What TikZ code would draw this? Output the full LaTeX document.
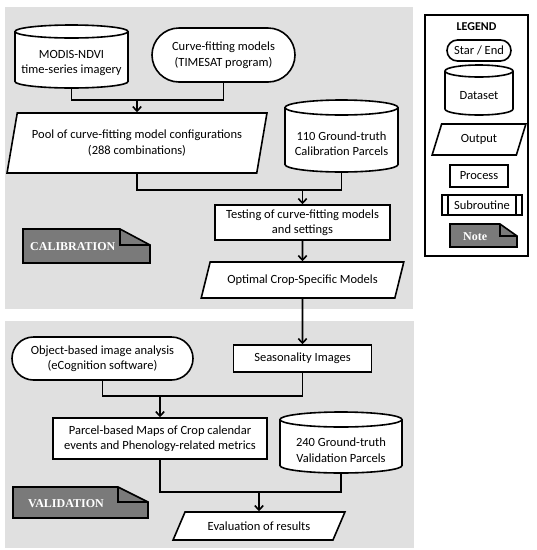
\documentclass[tikz,border=0pt]{standalone}
\usepackage{fontspec}
\setmainfont{Carlito}
\newfontfamily\notefont{Liberation Serif}
\usetikzlibrary{shapes.geometric,shapes.misc,arrows.meta}
\definecolor{panel}{RGB}{224,224,224}
\definecolor{notegray}{RGB}{122,122,122}
\tikzset{
  shapeline/.style={line width=1.6pt},
  box/.style={shapeline, draw, fill=white, align=center, inner sep=2pt,
    font=\fontsize{12.5}{15.5}\selectfont},
  txtonly/.style={align=center, inner sep=0pt, font=\fontsize{12.5}{15.5}\selectfont},
  procbox/.style={box, rectangle},
  termbox/.style={box, rounded rectangle},
  outbox/.style={box, trapezium, trapezium stretches=true, trapezium left angle=#1, trapezium right angle={180-#1}},
  notetext/.style={text=white, inner sep=0pt, font=\notefont\bfseries\fontsize{12}{14}\selectfont},
  subr/.style={path picture={
      \draw[shapeline] ([xshift=6pt]path picture bounding box.north west) -- ([xshift=6pt]path picture bounding box.south west);
      \draw[shapeline] ([xshift=-6pt]path picture bounding box.north east) -- ([xshift=-6pt]path picture bounding box.south east);}},
  conn/.style={line width=1.6pt},
  arr/.style={conn, -{Straight Barb[length=4.5pt,width=8.5pt]}}
}
% cylinder: name, cx, cy, width, height, ry, text
\newcommand\cyl[7]{%
  \draw[shapeline, fill=white]
    ({#2-#4/2},{-#3+#5/2-#6}) -- ({#2-#4/2},{-#3-#5/2+#6})
    arc[start angle=180,end angle=360,x radius={#4/2*1pt},y radius={#6*1pt}]
    -- ({#2+#4/2},{-#3+#5/2-#6})
    arc[start angle=0,end angle=180,x radius={#4/2*1pt},y radius={#6*1pt}] -- cycle;
  \draw[shapeline] ({#2-#4/2},{-#3+#5/2-#6})
    arc[start angle=180,end angle=360,x radius={#4/2*1pt},y radius={#6*1pt}];
  \node[txtonly, minimum width=#4, minimum height={#5-2*#6}] (#1) at ({#2},{-#3-#6}) {#7};
}
% note: name, x1, y1, xfold, x2, yfold, y2, textx, text
\newcommand\notebox[9]{%
  \draw[shapeline, fill=notegray] (#2,-#3) -- (#4,-#3) -- (#5,-#6) -- (#5,-#7) -- (#2,-#7) -- cycle;
  \draw[shapeline] (#4,-#3) -- (#4,-#6) -- (#5,-#6);
  \node[notetext, anchor=west] (#1) at ({#8},{-(#3+#7)/2-1}) {#9};
}
\begin{document}
\begin{tikzpicture}[x=1pt,y=1pt]
\useasboundingbox (0,0) rectangle (537,-550);
\fill[panel] (5,-7) rectangle (413,-309);
\fill[panel] (5,-321) rectangle (414,-548);
\draw[shapeline, fill=white] (425,-15) rectangle (528,-256);

% ---- calibration
\cyl{modis}{71.5}{56.5}{113}{63}{6.5}{MODIS-NDVI\\time-series imagery}
\node[termbox, minimum width=147, minimum height=54] (curve) at (223.5,-55) {Curve-fitting models\\(TIMESAT program)};
\node[outbox=73, minimum width=260, minimum height=60] (pool) at (137,-143) {Pool of curve-fitting model configurations\\(288 combinations)};
\cyl{cal}{341.5}{136}{113}{72}{7.5}{110 Ground-truth\\Calibration Parcels}
\node[procbox, minimum width=175, minimum height=35] (test) at (302.5,-222.5) {Testing of curve-fitting models\\and settings};
\node[outbox=63, minimum width=203, minimum height=36] (opt) at (302.5,-280) {Optimal Crop-Specific Models};
\notebox{calnote}{23}{229}{120}{150}{245}{263}{30}{CALIBRATION}

\coordinate (j1) at (137,-100);
\draw[conn] (modis.south) |- (j1) -| (curve.south);
\draw[arr] (j1) -- (pool.north);
\coordinate (j2) at (302.5,-190);
\draw[conn] (pool.south) |- (j2) -| (cal.south);
\draw[arr] (j2) -- (test.north);
\draw[arr] (test.south) -- (opt.north);

% ---- validation
\node[termbox, minimum width=185, minimum height=43] (obj) at (102.5,-358.5) {Object-based image analysis\\(eCognition software)};
\node[procbox, minimum width=138, minimum height=27] (seas) at (302.5,-358.5) {Seasonality Images};
\node[procbox, minimum width=214, minimum height=41] (parcel) at (160,-438.5) {Parcel-based Maps of Crop calendar\\events and Phenology-related metrics};
\cyl{val}{341}{442.5}{122}{61}{7.5}{240 Ground-truth\\Validation Parcels}
\node[outbox=56, minimum width=172, minimum height=28] (eval) at (259,-526) {Evaluation of results};
\notebox{valnote}{13}{487}{118}{148}{502}{518}{28}{VALIDATION}

\draw[arr] (opt.south) -- (seas.north);
\coordinate (j3) at (160,-396);
\draw[conn] (obj.south) |- (j3) -| (seas.south);
\draw[arr] (j3) -- (parcel.north);
\coordinate (j4) at (259,-492);
\draw[conn] (parcel.south) |- (j4) -| (val.south);
\draw[arr] (j4) -- (eval.north);

% ---- legend
\node[txtonly, font=\bfseries\fontsize{12}{14}\selectfont] (legtitle) at (476.5,-27) {LEGEND};
\node[termbox, minimum width=68, minimum height=21] (lstart) at (479,-50.5) {Star / End};
\cyl{ldata}{479}{90}{68}{50}{6}{Dataset}
\node[outbox=70, minimum width=94, minimum height=31] (lout) at (479,-139.5) {Output};
\node[procbox, minimum width=58, minimum height=22] (lproc) at (479,-176) {Process};
\node[procbox, subr, minimum width=80, minimum height=20] (lsub) at (482,-205) {Subroutine};
\notebox{lnote}{450}{224}{500}{517}{236}{247}{463}{Note}
\end{tikzpicture}
\end{document}
